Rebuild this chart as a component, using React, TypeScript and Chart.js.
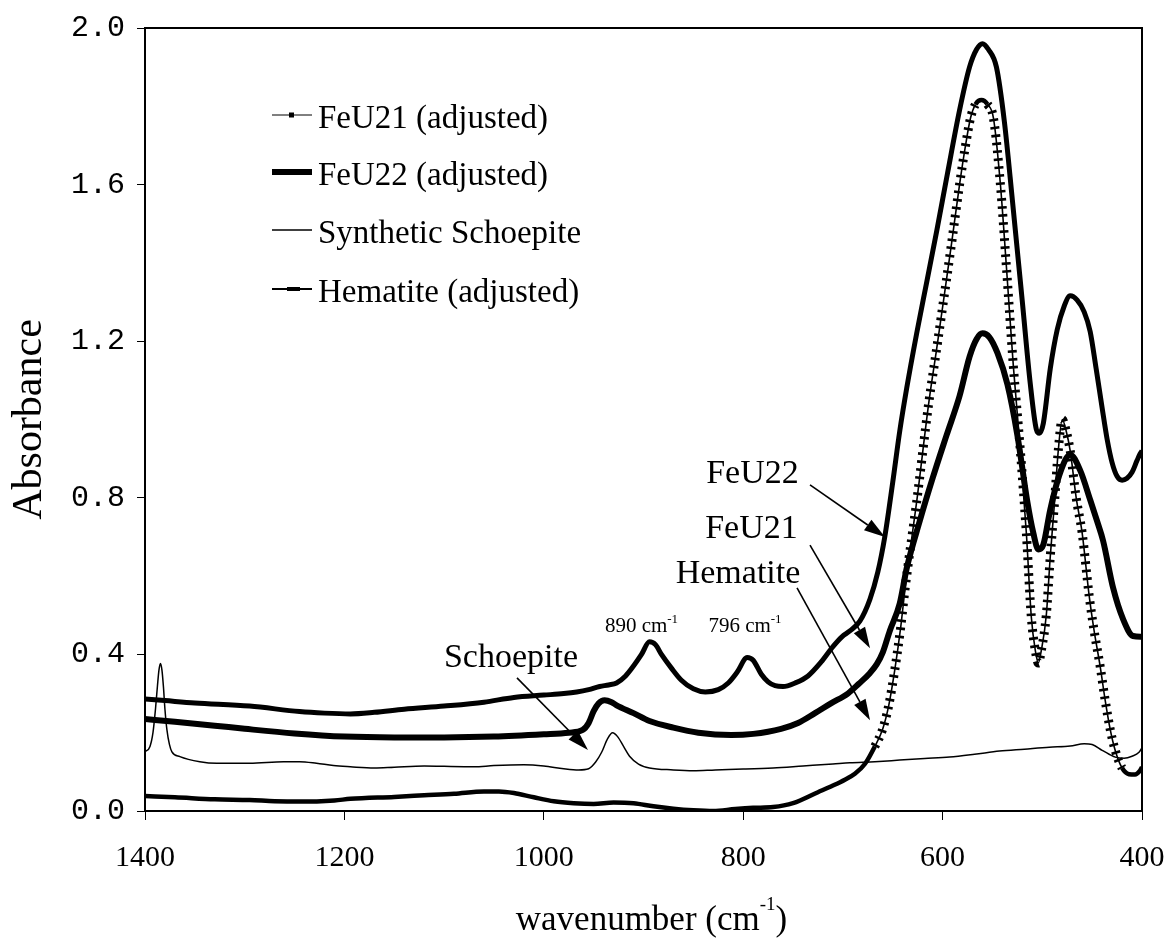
import React, { useEffect, useRef } from 'react';
import { Chart, registerables } from 'chart.js';

Chart.register(...registerables);

// ---------------- data ----------------
const xTicks = [1400, 1200, 1000, 800, 600, 400];
const yTicks = [0, 0.4, 0.8, 1.2, 1.6, 2.0];

const feu21Wn = [1400, 1370, 1330, 1300, 1250, 1200, 1150, 1100, 1050, 1000, 975, 961, 955, 950, 945, 939, 932, 927, 910, 894, 870, 845, 812, 790, 762, 745, 728, 712, 695, 684, 673, 666, 660, 653, 643, 636, 623, 610, 596, 583, 573, 566, 560, 553, 545, 535, 525, 515, 509, 504, 499, 492, 482, 472, 462, 452, 445, 439, 429, 419, 409, 400];
const feu21Abs = [0.235, 0.228, 0.218, 0.21, 0.198, 0.19, 0.188, 0.188, 0.19, 0.196, 0.2, 0.207, 0.225, 0.255, 0.275, 0.283, 0.278, 0.27, 0.25, 0.23, 0.213, 0.2, 0.194, 0.197, 0.21, 0.225, 0.25, 0.275, 0.3, 0.325, 0.352, 0.375, 0.405, 0.46, 0.53, 0.62, 0.74, 0.85, 0.96, 1.06, 1.16, 1.205, 1.22, 1.21, 1.17, 1.09, 0.96, 0.79, 0.71, 0.668, 0.68, 0.77, 0.865, 0.91, 0.87, 0.795, 0.74, 0.69, 0.57, 0.49, 0.447, 0.445];

const feu22Wn = [1400, 1380, 1350, 1295, 1245, 1220, 1194, 1170, 1140, 1100, 1060, 1030, 1000, 980, 967, 955, 944, 935, 927, 918, 911, 902, 894, 888, 882, 872, 862, 850, 838, 825, 815, 806, 796, 790, 782, 775, 768, 760, 748, 735, 722, 710, 701, 693, 683, 673, 665, 658, 650, 643, 636, 626, 616, 606, 595, 583, 573, 566, 560, 554, 546, 538, 530, 520, 512, 506, 503, 499, 492, 485, 478, 472, 465, 458, 452, 446, 440, 435, 430, 425, 420, 415, 410, 405, 402, 400];
const feu22Abs = [0.286, 0.282, 0.276, 0.268, 0.254, 0.25, 0.248, 0.252, 0.26, 0.268, 0.278, 0.29, 0.296, 0.3, 0.304, 0.31, 0.318, 0.322, 0.327, 0.345, 0.367, 0.4, 0.432, 0.425, 0.4, 0.365, 0.334, 0.312, 0.304, 0.31, 0.327, 0.355, 0.392, 0.385, 0.35, 0.33, 0.32, 0.318, 0.327, 0.345, 0.38, 0.42, 0.445, 0.46, 0.485, 0.54, 0.61, 0.7, 0.84, 0.97, 1.08, 1.22, 1.35, 1.48, 1.63, 1.79, 1.9, 1.945, 1.96, 1.945, 1.9, 1.76, 1.56, 1.3, 1.09, 0.975, 0.965, 0.99, 1.13, 1.23, 1.29, 1.316, 1.305, 1.275, 1.225, 1.13, 1.03, 0.95, 0.89, 0.855, 0.845, 0.85, 0.865, 0.895, 0.912, 0.92];

const schoepiteWn = [1400, 1395, 1392, 1389.5, 1387.5, 1386, 1384.5, 1383, 1381.5, 1380, 1378, 1375.5, 1373, 1365, 1345, 1328, 1295, 1261, 1245, 1228, 1211, 1194, 1170, 1150, 1120, 1100, 1070, 1050, 1020, 1000, 980, 965, 955, 948, 942, 936, 931, 926, 920, 914, 905, 894, 870, 850, 828, 800, 770, 740, 710, 693, 668, 643, 618, 593, 568, 543, 518, 493, 472, 458, 450, 440, 433, 426, 418, 410, 403, 400];
const schoepiteAbs = [0.151, 0.165, 0.2, 0.26, 0.32, 0.36, 0.377, 0.36, 0.317, 0.26, 0.207, 0.17, 0.151, 0.139, 0.126, 0.122, 0.122, 0.126, 0.126, 0.122, 0.116, 0.113, 0.11, 0.112, 0.115, 0.114, 0.113, 0.116, 0.118, 0.115, 0.108, 0.105, 0.108, 0.125, 0.15, 0.185, 0.2, 0.19, 0.165, 0.14, 0.12, 0.11, 0.105, 0.103, 0.105, 0.107, 0.11, 0.115, 0.12, 0.123, 0.126, 0.13, 0.134, 0.138, 0.145, 0.153, 0.158, 0.163, 0.166, 0.172, 0.17, 0.155, 0.145, 0.137, 0.135, 0.14, 0.15, 0.162];

const hematiteWn = [1400, 1370, 1330, 1295, 1270, 1245, 1210, 1194, 1150, 1120, 1090, 1060, 1045, 1030, 1010, 990, 970, 950, 930, 910, 890, 870, 850, 830, 808, 790, 770, 750, 725, 710, 698, 688, 678, 668, 660, 654, 648, 642, 638, 634, 626, 614, 606, 599, 591, 583, 577, 572, 567, 561, 555, 549, 542, 536, 529, 522, 516, 511, 507, 504, 501, 496, 492, 488, 484, 480, 476, 472, 466, 460, 453, 448, 442, 437, 432, 427, 420, 413, 407, 402, 400];
const hematiteAbs = [0.038, 0.035, 0.03, 0.028, 0.025, 0.024, 0.027, 0.031, 0.036, 0.04, 0.044, 0.05, 0.05, 0.046, 0.035, 0.025, 0.02, 0.018, 0.022, 0.02, 0.012, 0.006, 0.002, 0.0, 0.005, 0.008, 0.01, 0.02, 0.048, 0.065, 0.08, 0.095, 0.12, 0.165, 0.21, 0.27, 0.36, 0.47, 0.56, 0.64, 0.79, 1.04, 1.18, 1.305, 1.45, 1.6, 1.7, 1.77, 1.805, 1.816, 1.805, 1.77, 1.6, 1.39, 1.135, 0.92, 0.71, 0.495, 0.41, 0.378, 0.41, 0.5, 0.65, 0.78, 0.92, 1.0, 0.97, 0.92, 0.8, 0.71, 0.55, 0.46, 0.37, 0.284, 0.21, 0.156, 0.11, 0.094, 0.093, 0.103, 0.112];

const legendLabels = ['FeU21 (adjusted)', 'FeU22 (adjusted)', 'Synthetic Schoepite', 'Hematite (adjusted)'];

// callouts (anchors in data units: wavenumber, absorbance)
const calloutText = ['FeU22', 'FeU21', 'Hematite', 'Schoepite'];
const calloutTextWn = [790.7, 791.7, 805.2, 1032.9];
const calloutTextAbs = [0.838, 0.697, 0.582, 0.368];
const calloutFromWn = [733, 733, 746, 1026.9];
const calloutFromAbs = [0.833, 0.679, 0.57, 0.34];
const calloutToWn = [657.8, 672.8, 672.8, 955.7];
const calloutToAbs = [0.7, 0.416, 0.232, 0.156];

const peakText = ['890 cm', '796 cm'];
const peakTextWn = [902, 798.2];
const peakTextAbs = [0.457, 0.457];

const xTitle = 'wavenumber (cm';
const yTitle = 'Absorbance';

// ---------------- helpers ----------------
const SERIF = '"Liberation Serif", "Times New Roman", serif';
const MONO = '"Liberation Mono", "Courier New", monospace';

const toPts = (wn: number[], ab: number[]) => wn.map((w, i) => ({ x: w, y: ab[i] }));

const isSteep = (c: any) => Math.abs(c.p1.y - c.p0.y) > 2.2 * Math.abs(c.p1.x - c.p0.x);

function drawRich(ctx: CanvasRenderingContext2D, parts: { t: string; sup?: boolean }[], cx: number, baseY: number, size: number, supSize: number, raise: number) {
  const widths = parts.map((p) => {
    ctx.font = `${p.sup ? supSize : size}px ${SERIF}`;
    return ctx.measureText(p.t).width;
  });
  const total = widths.reduce((a, b) => a + b, 0);
  let x = cx - total / 2;
  ctx.textAlign = 'left';
  ctx.textBaseline = 'alphabetic';
  parts.forEach((p, i) => {
    ctx.font = `${p.sup ? supSize : size}px ${SERIF}`;
    ctx.fillText(p.t, x, p.sup ? baseY - raise : baseY);
    x += widths[i];
  });
}

function drawArrow(ctx: CanvasRenderingContext2D, x0: number, y0: number, x1: number, y1: number) {
  const headLen = 21;
  const headHalf = 6.5;
  const a = Math.atan2(y1 - y0, x1 - x0);
  const bx = x1 - headLen * Math.cos(a);
  const by = y1 - headLen * Math.sin(a);
  ctx.beginPath();
  ctx.moveTo(x0, y0);
  ctx.lineTo(bx, by);
  ctx.stroke();
  ctx.beginPath();
  ctx.moveTo(x1, y1);
  ctx.lineTo(bx + headHalf * Math.sin(a), by - headHalf * Math.cos(a));
  ctx.lineTo(bx - headHalf * Math.sin(a), by + headHalf * Math.cos(a));
  ctx.closePath();
  ctx.fill();
}

const overlayPlugin = {
  id: 'overlayDecor',
  beforeDraw(chart: any) {
    const { ctx, width, height } = chart;
    ctx.save();
    ctx.fillStyle = '#fff';
    ctx.fillRect(0, 0, width, height);
    ctx.restore();
  },
  afterDatasetsDraw(chart: any) {
    const { ctx, chartArea, scales } = chart;
    const xs = scales.x;
    const ys = scales.y;
    const L = chartArea.left;
    const T = chartArea.top;
    ctx.save();
    ctx.fillStyle = '#000';
    ctx.strokeStyle = '#000';

    // frame
    ctx.lineWidth = 2;
    ctx.strokeRect(L, T, chartArea.right - L, chartArea.bottom - T);

    // legend
    const lx0 = L + 127;
    const lx1 = lx0 + 40;
    const rows = [87, 144, 202, 261];
    rows.forEach((dy, i) => {
      const y = T + dy;
      ctx.beginPath();
      ctx.moveTo(lx0, y);
      ctx.lineTo(lx1, y);
      if (i === 0) {
        ctx.lineWidth = 1;
        ctx.stroke();
        ctx.fillRect(lx0 + 17, y - 2.5, 5, 5);
      } else if (i === 1) {
        ctx.lineWidth = 6;
        ctx.stroke();
      } else if (i === 2) {
        ctx.lineWidth = 1.5;
        ctx.stroke();
      } else {
        ctx.lineWidth = 1.8;
        ctx.stroke();
        ctx.fillRect(lx0 + 15, y - 2, 13, 4);
      }
      ctx.font = `33px ${SERIF}`;
      ctx.textAlign = 'left';
      ctx.textBaseline = 'alphabetic';
      ctx.fillText(legendLabels[i], lx0 + 46, y + 13);
    });

    // callout labels and arrows
    ctx.lineWidth = 1.6;
    calloutText.forEach((t, i) => {
      ctx.font = `34px ${SERIF}`;
      ctx.textAlign = 'center';
      ctx.textBaseline = 'alphabetic';
      ctx.fillText(t, xs.getPixelForValue(calloutTextWn[i]), ys.getPixelForValue(calloutTextAbs[i]));
      drawArrow(
        ctx,
        xs.getPixelForValue(calloutFromWn[i]),
        ys.getPixelForValue(calloutFromAbs[i]),
        xs.getPixelForValue(calloutToWn[i]),
        ys.getPixelForValue(calloutToAbs[i])
      );
    });

    // peak labels
    peakText.forEach((t, i) => {
      drawRich(ctx, [{ t }, { t: '-1', sup: true }], xs.getPixelForValue(peakTextWn[i]), ys.getPixelForValue(peakTextAbs[i]), 21, 13, 9);
    });

    // axis titles
    const cx = (chartArea.left + chartArea.right) / 2 + 8;
    drawRich(ctx, [{ t: xTitle }, { t: '-1', sup: true }, { t: ')' }], cx, chartArea.bottom + 119, 35, 19, 20);

    ctx.save();
    ctx.translate(41, (chartArea.top + chartArea.bottom) / 2);
    ctx.rotate(-Math.PI / 2);
    ctx.font = `42px ${SERIF}`;
    ctx.textAlign = 'center';
    ctx.textBaseline = 'alphabetic';
    ctx.fillText(yTitle, 0, 0);
    ctx.restore();

    ctx.restore();
  },
};

export default function App() {
  const ref = useRef<HTMLCanvasElement | null>(null);

  useEffect(() => {
    if (!ref.current) return;
    const common = {
      pointRadius: 0,
      pointHoverRadius: 0,
      pointHitRadius: 0,
      fill: false,
      cubicInterpolationMode: 'monotone' as const,
      borderColor: '#000',
    };
    const chart = new Chart(ref.current, {
      type: 'line',
      data: {
        datasets: [
          { ...common, label: legendLabels[0], data: toPts(feu21Wn, feu21Abs), borderWidth: 6 },
          { ...common, label: legendLabels[1], data: toPts(feu22Wn, feu22Abs), borderWidth: 5 },
          { ...common, label: legendLabels[2], data: toPts(schoepiteWn, schoepiteAbs), borderWidth: 1.5 },
          {
            ...common,
            label: legendLabels[3],
            data: toPts(hematiteWn, hematiteAbs),
            borderWidth: 4.5,
            segment: { borderWidth: (c: any) => (isSteep(c) ? 1.6 : undefined) },
          },
          {
            ...common,
            label: legendLabels[3] + ' markers',
            data: toPts(hematiteWn, hematiteAbs),
            borderWidth: 9,
            borderCapStyle: 'butt',
            borderColor: 'rgba(0,0,0,0)',
            segment: {
              borderColor: (c: any) => (isSteep(c) ? '#000' : 'rgba(0,0,0,0)'),
              borderDash: (c: any) => (isSteep(c) ? [2.6, 5.4] : undefined),
            },
          },
        ],
      },
      options: {
        animation: false,
        responsive: false,
        events: [],
        layout: { padding: { left: 0, top: 28, right: 26, bottom: 0 } },
        plugins: { legend: { display: false }, title: { display: false }, tooltip: { enabled: false } },
        scales: {
          x: {
            type: 'linear',
            reverse: true,
            min: 400,
            max: 1400,
            afterBuildTicks: (s: any) => {
              s.ticks = xTicks.map((v) => ({ value: v }));
            },
            afterFit: (s: any) => {
              s.height = 127;
              s.paddingLeft = 0;
              s.paddingRight = 0;
            },
            ticks: {
              font: { family: SERIF, size: 30 },
              color: '#000',
              padding: 20,
              maxRotation: 0,
              autoSkip: false,
              callback: (v: any) => String(v),
            },
            grid: { drawOnChartArea: false, drawTicks: true, tickLength: 9, color: '#000', lineWidth: 1 },
            border: { display: true, color: '#000', width: 2 },
          },
          y: {
            type: 'linear',
            min: 0,
            max: 2,
            afterBuildTicks: (s: any) => {
              s.ticks = yTicks.map((v) => ({ value: v }));
            },
            afterFit: (s: any) => {
              s.width = 145;
              s.paddingTop = 0;
              s.paddingBottom = 0;
            },
            ticks: {
              font: { family: MONO, size: 30 },
              color: '#000',
              padding: 12,
              callback: (v: any) => Number(v).toFixed(1),
            },
            grid: { drawOnChartArea: false, drawTicks: true, tickLength: 8, color: '#000', lineWidth: 1 },
            border: { display: true, color: '#000', width: 2 },
          },
        },
      },
      plugins: [overlayPlugin],
    } as any);
    return () => chart.destroy();
  }, []);

  return (
    <div style={{ position: 'absolute', left: 0, top: 0, width: 1168, height: 938, background: '#fff' }}>
      <canvas ref={ref} width={1168} height={938} style={{ display: 'block', width: 1168, height: 938 }} />
    </div>
  );
}
